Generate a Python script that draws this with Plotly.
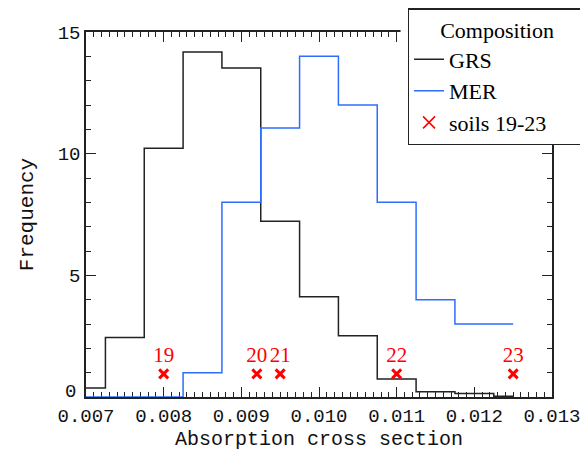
import plotly.graph_objects as go

# Histogram bin centres (absorption cross section)
bin_centers = [0.0070, 0.0075, 0.0080, 0.0085, 0.0090, 0.0095,
               0.0100, 0.0105, 0.0110, 0.0115, 0.0120, 0.0125]
grs_freq = [0.37, 2.45, 10.22, 14.18, 13.52, 7.22, 4.12, 2.52, 0.74, 0.22, 0.14, 0.03]
mer_freq = [0.0, 0.0, 0.0, 1.0, 8.0, 11.05, 14.0, 12.0, 8.0, 4.0, 3.0, 3.0]

soil_x = [0.0080, 0.0092, 0.0095, 0.0110, 0.0125]
soil_y = [0.95, 0.95, 0.95, 0.95, 0.95]
soil_labels = ["19", "20", "21", "22", "23"]

x_ticks = [0.007, 0.008, 0.009, 0.010, 0.011, 0.012, 0.013]
x_ticklabels = ["0.007", "0.008", "0.009", "0.010", "0.011", "0.012", "0.013"]
y_ticks = [0, 5, 10, 15]
y_ticklabels = ["", "5", "10", "15"]

BLACK = "#222222"
BLUE = "rgb(45,110,255)"
RED = "#ff0000"
MONO = "Liberation Mono"
SERIF = "Liberation Serif"
PAD = "\u2003\u2002"  # trailing spacing to widen the legend box like the original

fig = go.Figure()
fig.add_trace(go.Scatter(x=bin_centers, y=grs_freq, mode="lines", line_shape="hvh",
                         line=dict(color=BLACK, width=1.5), name="GRS"))
fig.add_trace(go.Scatter(x=bin_centers, y=mer_freq, mode="lines", line_shape="hvh",
                         line=dict(color=BLUE, width=1.5), name="MER"))
fig.add_trace(go.Scatter(x=soil_x, y=soil_y, mode="markers+text", text=soil_labels,
                         textposition="top center", cliponaxis=False,
                         textfont=dict(family=SERIF, size=21, color=RED),
                         marker=dict(symbol="x-thin", size=9, color=RED,
                                     line=dict(color=RED, width=3)),
                         showlegend=False, name="soils 19-23"))
# legend-only entry with thinner, larger cross
fig.add_trace(go.Scatter(x=[None], y=[None], mode="markers", name="soils 19-23" + PAD,
                         marker=dict(symbol="x-thin", size=12, color=RED,
                                     line=dict(color=RED, width=1.5))))

axis_common = dict(showline=True, linecolor=BLACK, linewidth=1.5, mirror="ticks",
                   ticks="inside", ticklen=10, tickwidth=1.2, tickcolor=BLACK,
                   showgrid=False, zeroline=False, automargin=False,
                   tickfont=dict(family=MONO, size=19, color="#111111"))

fig.update_xaxes(range=[0.007, 0.013], tickvals=x_ticks, ticktext=x_ticklabels,
                 minor=dict(dtick=0.0001, ticks="inside", ticklen=5, tickcolor=BLACK, tickwidth=1.2),
                 title=dict(text="Absorption cross section", standoff=4,
                            font=dict(family=MONO, size=20, color="#111111")),
                 layer="below traces", **axis_common)
fig.update_yaxes(range=[0, 15], tickvals=y_ticks, ticktext=y_ticklabels,
                 minor=dict(dtick=1, ticks="inside", ticklen=5, tickcolor=BLACK, tickwidth=1.2),
                 title=dict(text="Frequency", standoff=18,
                            font=dict(family=MONO, size=21, color="#111111")),
                 **axis_common)

# y tick label "0" sits slightly above the axis corner
fig.add_annotation(x=0, xref="paper", y=0, yref="y", text="0", showarrow=False,
                   xanchor="right", yanchor="middle", xshift=-8, yshift=5,
                   font=dict(family=MONO, size=19, color="#111111"))

# white patch around the legend (hides the axes behind it)
fig.add_shape(type="rect", xref="paper", yref="paper", x0=0.675, x1=1.1, y0=0.715, y1=1.12,
              fillcolor="white", line=dict(width=0), layer="above")

fig.update_layout(
    width=580, height=448,
    margin=dict(l=78, r=36, t=24, b=59, autoexpand=False),
    paper_bgcolor="white", plot_bgcolor="white",
    showlegend=True,
    legend=dict(x=0.69, y=1.065, xanchor="left", yanchor="top",
                bgcolor="white", bordercolor=BLACK, borderwidth=1.5,
                font=dict(family=SERIF, size=22, color="black"),
                title=dict(text="Composition", side="top center",
                           font=dict(family=SERIF, size=22, color="black")),
                tracegroupgap=0, itemwidth=30),
)

fig.write_html("out.html")
